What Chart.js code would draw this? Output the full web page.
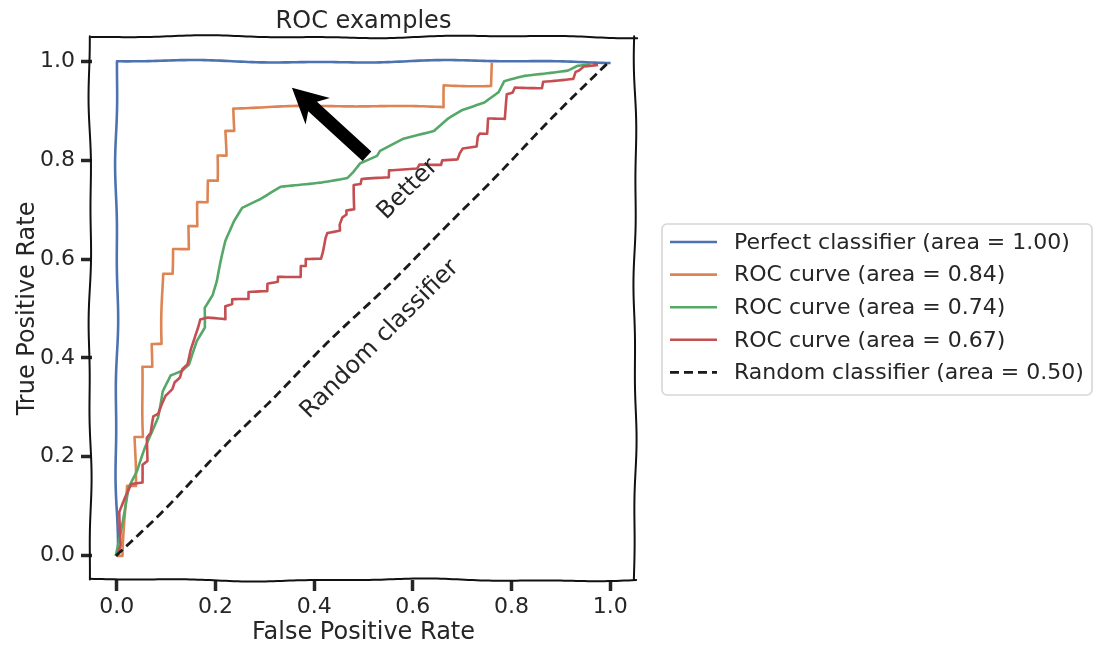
<!DOCTYPE html>
<html>
<head>
<meta charset="utf-8">
<title>ROC examples</title>
<script src="https://cdn.jsdelivr.net/npm/chart.js@4.4.1/dist/chart.umd.min.js"></script>
<style>
  html, body { margin: 0; padding: 0; background: #fff; }
</style>
</head>
<body>
<canvas id="chart" width="1094" height="648"></canvas>
<script>
const axisTicks = [0, 0.2, 0.4, 0.6, 0.8, 1.0];

// perfect classifier
const perfectFpr = [0, 0, 1];
const perfectTpr = [0, 1, 1];

// ROC curve, area 0.84
const rocAFpr = [0, 0.012, 0.018, 0.036, 0.036, 0.053, 0.053, 0.073, 0.073, 0.093, 0.093, 0.112, 0.112, 0.144, 0.144, 0.162, 0.162, 0.183, 0.183, 0.203, 0.203, 0.221, 0.221, 0.239, 0.239, 0.665, 0.665, 0.761, 0.761];
const rocATpr = [0, 0, 0.142, 0.142, 0.241, 0.241, 0.383, 0.383, 0.429, 0.429, 0.571, 0.571, 0.621, 0.621, 0.668, 0.668, 0.717, 0.717, 0.761, 0.761, 0.812, 0.812, 0.862, 0.862, 0.907, 0.909, 0.953, 0.953, 1.0];

// ROC curve, area 0.74
const rocBFpr = [0, 0.006, 0.026, 0.043, 0.057, 0.081, 0.091, 0.108, 0.132, 0.146, 0.162, 0.178, 0.178, 0.195, 0.205, 0.223, 0.239, 0.254, 0.290, 0.331, 0.412, 0.467, 0.479, 0.493, 0.527, 0.533, 0.580, 0.641, 0.669, 0.696, 0.742, 0.771, 0.783, 0.824, 0.864, 0.913, 0.933, 0.960];
const rocBTpr = [0, 0.030, 0.137, 0.170, 0.217, 0.277, 0.330, 0.362, 0.372, 0.385, 0.433, 0.460, 0.500, 0.526, 0.555, 0.636, 0.676, 0.702, 0.719, 0.745, 0.757, 0.767, 0.779, 0.796, 0.810, 0.820, 0.844, 0.860, 0.885, 0.901, 0.915, 0.935, 0.957, 0.968, 0.974, 0.982, 0.992, 0.996];

// ROC curve, area 0.67
const rocCFpr = [0, 0.006, 0.006, 0.018, 0.030, 0.053, 0.053, 0.063, 0.063, 0.071, 0.077, 0.087, 0.093, 0.101, 0.114, 0.118, 0.128, 0.132, 0.142, 0.148, 0.158, 0.164, 0.168, 0.183, 0.219, 0.219, 0.233, 0.233, 0.266, 0.266, 0.304, 0.304, 0.325, 0.325, 0.371, 0.371, 0.381, 0.381, 0.412, 0.416, 0.422, 0.426, 0.452, 0.452, 0.458, 0.467, 0.467, 0.483, 0.483, 0.497, 0.499, 0.554, 0.554, 0.611, 0.615, 0.659, 0.661, 0.692, 0.696, 0.702, 0.730, 0.732, 0.736, 0.751, 0.753, 0.787, 0.791, 0.803, 0.807, 0.862, 0.864, 0.925, 0.929, 0.935, 0.945, 0.974];
const rocCTpr = [0, 0.018, 0.085, 0.115, 0.142, 0.146, 0.182, 0.190, 0.237, 0.247, 0.281, 0.287, 0.304, 0.324, 0.338, 0.352, 0.362, 0.379, 0.389, 0.419, 0.449, 0.466, 0.480, 0.484, 0.480, 0.506, 0.510, 0.520, 0.520, 0.534, 0.536, 0.551, 0.555, 0.565, 0.565, 0.587, 0.587, 0.601, 0.601, 0.615, 0.642, 0.652, 0.656, 0.668, 0.682, 0.688, 0.696, 0.698, 0.747, 0.749, 0.759, 0.763, 0.777, 0.783, 0.791, 0.791, 0.800, 0.802, 0.814, 0.824, 0.828, 0.848, 0.854, 0.854, 0.885, 0.885, 0.935, 0.939, 0.949, 0.949, 0.962, 0.966, 0.980, 0.982, 0.990, 0.992];

// random classifier diagonal
const randomFpr = [0, 1];
const randomTpr = [0, 1];

const seriesLabels = [
    "Perfect classifier (area = 1.00)",
    "ROC curve (area = 0.84)",
    "ROC curve (area = 0.74)",
    "ROC curve (area = 0.67)",
    "Random classifier (area = 0.50)"
];
const seriesColors = ["#4C72B0", "#DD8452", "#55A868", "#C44E52", "#1a1a1a"];

// annotation: arrow pointing toward the top-left corner
const arrowFrom = [0.507, 0.808];
const arrowTo = [0.355, 0.947];
const betterText = ["Better", 0.59, 0.741];
const randomText = ["Random classifier", 0.533, 0.437];

const textColor = "#262626";
const fontFamily = "'DejaVu Sans', sans-serif";

Chart.defaults.font.family = fontFamily;
Chart.defaults.color = textColor;

function toPoints(xs, ys) {
    return xs.map((x, i) => ({ x: x, y: ys[i] }));
}

// smooth displacement used for the hand drawn look
function wobble(x, y, phase, amp) {
    return [
        x + amp * (0.65 * Math.sin(y / 43 + phase) + 0.35 * Math.sin(y / 17 + phase * 1.7)),
        y + amp * (0.65 * Math.sin(x / 47 + phase * 1.3) + 0.35 * Math.sin(x / 19 + phase * 0.6))
    ];
}

function wobbleLine(ctx, x1, y1, x2, y2, amp, phase) {
    const len = Math.hypot(x2 - x1, y2 - y1);
    const n = Math.max(2, Math.ceil(len / 4));
    ctx.beginPath();
    for (let i = 0; i <= n; i++) {
        const t = i / n;
        const [px, py] = wobble(x1 + (x2 - x1) * t, y1 + (y2 - y1) * t, phase, amp);
        if (i === 0) ctx.moveTo(px, py); else ctx.lineTo(px, py);
    }
    ctx.stroke();
}

// bend every dataset path a little while it is stroked
const sketchLines = {
    id: "sketchLines",
    beforeDatasetDraw(chart, args) {
        const ctx = chart.ctx;
        const proto = Object.getPrototypeOf(ctx);
        const phase = 0.8 + args.index * 2.1;
        const amp = 1.6;
        let cx = 0, cy = 0;
        ctx.moveTo = function (x, y) {
            cx = x; cy = y;
            const [px, py] = wobble(x, y, phase, amp);
            proto.moveTo.call(ctx, px, py);
        };
        ctx.lineTo = function (x, y) {
            const len = Math.hypot(x - cx, y - cy);
            const n = Math.max(1, Math.ceil(len / 4));
            for (let i = 1; i <= n; i++) {
                const t = i / n;
                const [px, py] = wobble(cx + (x - cx) * t, cy + (y - cy) * t, phase, amp);
                proto.lineTo.call(ctx, px, py);
            }
            cx = x; cy = y;
        };
    },
    afterDatasetDraw(chart) {
        delete chart.ctx.moveTo;
        delete chart.ctx.lineTo;
    }
};

const sketchFrame = {
    id: "sketchFrame",
    afterDatasetsDraw(chart) {
        const { ctx, chartArea: a } = chart;
        ctx.save();
        ctx.strokeStyle = "#111";
        ctx.lineWidth = 2;
        ctx.lineCap = "round";
        wobbleLine(ctx, a.left - 2, a.top, a.right + 1, a.top, 1.6, 0.3);
        wobbleLine(ctx, a.left - 2, a.bottom, a.right + 1, a.bottom, 1.6, 1.7);
        wobbleLine(ctx, a.left - 2, a.top, a.left - 2, a.bottom, 1.6, 2.9);
        wobbleLine(ctx, a.right, a.top, a.right, a.bottom, 1.6, 4.1);
        ctx.restore();
    }
};

const annotations = {
    id: "annotations",
    afterDatasetsDraw(chart) {
        const { ctx } = chart;
        const xs = chart.scales.x, ys = chart.scales.y;
        ctx.save();

        // arrow
        const tail = { x: xs.getPixelForValue(arrowFrom[0]), y: ys.getPixelForValue(arrowFrom[1]) };
        const tip = { x: xs.getPixelForValue(arrowTo[0]), y: ys.getPixelForValue(arrowTo[1]) };
        const len = Math.hypot(tip.x - tail.x, tip.y - tail.y);
        const ux = (tip.x - tail.x) / len, uy = (tip.y - tail.y) / len;
        const px = -uy, py = ux;
        const headLen = 35, headW = 36, shaftW = 13, notch = 7;
        const bx = tip.x - ux * headLen, by = tip.y - uy * headLen;
        const nx = bx + ux * notch, ny = by + uy * notch;
        ctx.fillStyle = "#000";
        ctx.beginPath();
        ctx.moveTo(tail.x + px * shaftW / 2, tail.y + py * shaftW / 2);
        ctx.lineTo(nx + px * shaftW / 2, ny + py * shaftW / 2);
        ctx.lineTo(bx + px * headW / 2, by + py * headW / 2);
        ctx.lineTo(tip.x, tip.y);
        ctx.lineTo(bx - px * headW / 2, by - py * headW / 2);
        ctx.lineTo(nx - px * shaftW / 2, ny - py * shaftW / 2);
        ctx.lineTo(tail.x - px * shaftW / 2, tail.y - py * shaftW / 2);
        ctx.closePath();
        ctx.fill();

        // rotated labels
        ctx.fillStyle = textColor;
        ctx.font = "24px " + fontFamily;
        ctx.textAlign = "center";
        ctx.textBaseline = "middle";
        [betterText, randomText].forEach(([text, x, y]) => {
            ctx.save();
            ctx.translate(xs.getPixelForValue(x), ys.getPixelForValue(y));
            ctx.rotate(-Math.PI / 4);
            ctx.fillText(text, 0, 0);
            ctx.restore();
        });
        ctx.restore();
    }
};

const sideLegend = {
    id: "sideLegend",
    afterDraw(chart) {
        const { ctx } = chart;
        const left = 662, top = 224, right = 1092, bottom = 395;
        const rowTop = 242, rowGap = 32.6;
        ctx.save();
        ctx.strokeStyle = "#d6d6d6";
        ctx.lineWidth = 1.6;
        ctx.beginPath();
        ctx.roundRect(left, top, right - left, bottom - top, 5);
        ctx.stroke();

        ctx.font = "22px " + fontFamily;
        ctx.textBaseline = "middle";
        ctx.textAlign = "left";
        chart.data.datasets.forEach((ds, i) => {
            const y = rowTop + i * rowGap;
            ctx.strokeStyle = ds.borderColor;
            ctx.lineWidth = ds.borderWidth;
            ctx.setLineDash(ds.borderDash || []);
            ctx.beginPath();
            ctx.moveTo(670, y);
            ctx.lineTo(717, y);
            ctx.stroke();
            ctx.setLineDash([]);
            ctx.fillStyle = textColor;
            ctx.fillText(ds.label, 734, y + 1);
        });
        ctx.restore();
    }
};

const curves = [
    [perfectFpr, perfectTpr],
    [rocAFpr, rocATpr],
    [rocBFpr, rocBTpr],
    [rocCFpr, rocCTpr],
    [randomFpr, randomTpr]
];

const datasets = curves.map(([xs, ys], i) => ({
    label: seriesLabels[i],
    data: toPoints(xs, ys),
    borderColor: seriesColors[i],
    borderWidth: i === 4 ? 2.8 : 2.6,
    borderDash: i === 4 ? [9, 5] : [],
    borderJoinStyle: "round",
    pointRadius: 0,
    tension: 0,
    fill: false,
    segment: {},
    order: curves.length - i
}));

const ctx = document.getElementById("chart");

new Chart(ctx, {
    type: "line",
    data: { datasets: datasets },
    plugins: [sketchLines, annotations, sketchFrame, sideLegend],
    options: {
        responsive: false,
        animation: false,
        devicePixelRatio: 1,
        layout: { padding: { right: 459 } },
        plugins: {
            legend: { display: false },
            tooltip: { enabled: false },
            title: {
                display: true,
                fullSize: false,
                text: "ROC examples",
                color: textColor,
                font: { size: 24, weight: "normal" },
                padding: { top: 7, bottom: 1 }
            }
        },
        scales: {
            x: {
                type: "linear",
                min: -0.05,
                max: 1.05,
                afterFit: s => { s.height = 68; },
                afterBuildTicks: s => { s.ticks = axisTicks.map(v => ({ value: v })); },
                border: { display: false },
                grid: { drawOnChartArea: false, drawTicks: true, tickLength: 11, tickWidth: 3.5, tickColor: textColor },
                ticks: { color: textColor, font: { size: 22 }, padding: 3, maxRotation: 0, callback: v => v.toFixed(1) },
                title: { display: true, text: "False Positive Rate", color: textColor, font: { size: 24 }, padding: { top: 0, bottom: 1 } }
            },
            y: {
                type: "linear",
                min: -0.05,
                max: 1.05,
                afterFit: s => { s.width = 92; },
                afterBuildTicks: s => { s.ticks = axisTicks.map(v => ({ value: v })); },
                border: { display: false },
                grid: { drawOnChartArea: false, drawTicks: true, tickLength: 11, tickWidth: 3.5, tickColor: textColor },
                ticks: { color: textColor, font: { size: 22 }, padding: 6, callback: v => v.toFixed(1) },
                title: { display: true, text: "True Positive Rate", color: textColor, font: { size: 24 }, padding: { top: 13.6, bottom: 0 } }
            }
        }
    }
});
</script>
</body>
</html>
